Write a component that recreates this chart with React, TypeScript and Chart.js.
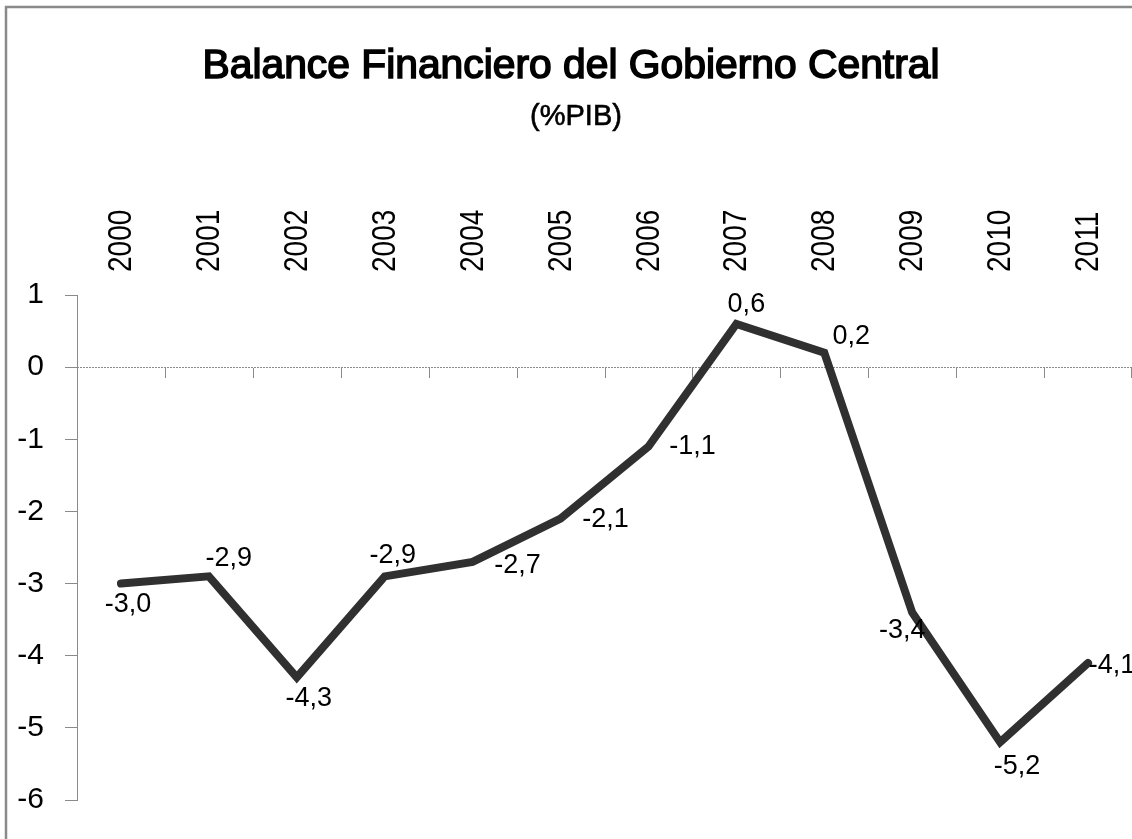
import React, { useEffect, useRef } from "react";
import { Chart, registerables } from "chart.js";

Chart.register(...registerables);

const years = ["2000", "2001", "2002", "2003", "2004", "2005", "2006", "2007", "2008", "2009", "2010", "2011"];
const balance = [-3.0, -2.9, -4.3, -2.9, -2.7, -2.1, -1.1, 0.6, 0.2, -3.4, -5.2, -4.1];
const yMin = -6;
const yMax = 1;
const titleText = "Balance Financiero del Gobierno Central";
const subtitleText = "(%PIB)";

// label offsets (px) relative to each point
const labelOffsets: [number, number][] = [
  [7, 21], [20, -18], [12, 21], [8, -21], [45, 4], [45, 1],
  [44, 0], [10, -19], [27, -16], [-10, 18], [17, 24], [24, 3],
];

const FONT = '"Liberation Sans", Arial, sans-serif';
const W = 1132;
const H = 839;

const decorPlugin = {
  id: "decor",
  beforeDraw(chart: any) {
    const ctx = chart.ctx;
    ctx.save();
    ctx.fillStyle = "#fff";
    ctx.fillRect(0, 0, chart.width, chart.height);
    // frame
    ctx.strokeStyle = "#8a8a8a";
    ctx.lineWidth = 2.5;
    ctx.beginPath();
    ctx.moveTo(6, chart.height);
    ctx.lineTo(6, 7);
    ctx.lineTo(chart.width, 7);
    ctx.stroke();
    // zero line with ticks
    const x = chart.scales.x;
    const y = chart.scales.y;
    const area = chart.chartArea;
    const y0 = Math.round(y.getPixelForValue(0));
    ctx.strokeStyle = "#8a8a8a";
    ctx.lineWidth = 1;
    ctx.setLineDash([2, 1]);
    ctx.beginPath();
    ctx.moveTo(area.left, y0 + 0.5);
    ctx.lineTo(area.right, y0 + 0.5);
    ctx.stroke();
    ctx.setLineDash([]);
    ctx.beginPath();
    for (let i = 0; i < years.length; i++) {
      const px = i < years.length - 1
        ? (x.getPixelForValue(i) + x.getPixelForValue(i + 1)) / 2
        : area.right - 1;
      ctx.moveTo(Math.round(px) + 0.5, y0 + 1);
      ctx.lineTo(Math.round(px) + 0.5, y0 + 11);
    }
    ctx.stroke();
    ctx.restore();
  },
  afterDraw(chart: any) {
    const ctx = chart.ctx;
    const x = chart.scales.x;
    const area = chart.chartArea;
    ctx.save();
    ctx.fillStyle = "#000";
    ctx.strokeStyle = "#000";
    // title
    ctx.font = `41px ${FONT}`;
    ctx.textAlign = "center";
    ctx.textBaseline = "alphabetic";
    const tw = ctx.measureText(titleText).width;
    const sx = 737 / tw;
    ctx.save();
    ctx.translate(571, 78);
    ctx.scale(sx, 1);
    ctx.lineWidth = 1.6;
    ctx.fillText(titleText, 0, 0);
    ctx.strokeText(titleText, 0, 0);
    ctx.restore();
    // subtitle
    ctx.font = `29px ${FONT}`;
    ctx.lineWidth = 0.6;
    ctx.fillText(subtitleText, 576, 125);
    ctx.strokeText(subtitleText, 576, 125);
    // year labels (rotated)
    ctx.font = `33px ${FONT}`;
    ctx.textAlign = "left";
    ctx.textBaseline = "middle";
    years.forEach((lab, i) => {
      const px = x.getPixelForValue(i);
      ctx.save();
      ctx.translate(px + 1, area.top - 23);
      ctx.rotate(-Math.PI / 2);
      ctx.scale(0.85, 1);
      ctx.fillText(lab, 0, 0);
      ctx.restore();
    });
    // data labels
    const meta = chart.getDatasetMeta(0);
    ctx.font = `27px ${FONT}`;
    ctx.textAlign = "center";
    ctx.textBaseline = "middle";
    meta.data.forEach((pt: any, i: number) => {
      const v = balance[i];
      const txt = v.toFixed(1).replace(".", ",");
      const [dx, dy] = labelOffsets[i];
      ctx.fillText(txt, pt.x + dx, pt.y + dy);
    });
    ctx.restore();
  },
};

export default function App() {
  const ref = useRef<HTMLCanvasElement | null>(null);
  useEffect(() => {
    if (!ref.current) return;
    const chart = new Chart(ref.current, {
      type: "line",
      data: {
        labels: years,
        datasets: [
          {
            data: balance,
            borderColor: "#303030",
            borderWidth: 8,
            borderCapStyle: "round",
            borderJoinStyle: "miter",
            pointRadius: 0,
            tension: 0,
            fill: false,
          },
        ],
      },
      options: {
        responsive: false,
        animation: false,
        devicePixelRatio: 1,
        layout: { padding: { top: 0, left: 0, right: 0, bottom: 28 } },
        plugins: {
          legend: { display: false },
          tooltip: { enabled: false },
          title: { display: false },
        },
        scales: {
          x: {
            type: "category",
            position: "top",
            offset: true,
            grid: { display: false, drawTicks: false },
            border: { display: false },
            ticks: { display: false },
            afterFit: (s: any) => {
              s.height = 295;
            },
          },
          y: {
            min: yMin,
            max: yMax,
            ticks: {
              stepSize: 1,
              padding: 21,
              color: "#000",
              font: { family: FONT, size: 30 },
              callback: (v: any) => String(v),
            },
            grid: {
              display: true,
              drawOnChartArea: false,
              drawTicks: true,
              tickLength: 12,
              color: "#8a8a8a",
            },
            border: { display: true, color: "#8a8a8a", width: 1 },
            afterFit: (s: any) => {
              s.width = 77;
            },
          },
        },
      },
      plugins: [decorPlugin],
    });
    return () => chart.destroy();
  }, []);
  return (
    <div style={{ position: "fixed", left: 0, top: 0, width: W, height: H, background: "#fff", overflow: "hidden" }}>
      <canvas ref={ref} width={W} height={H} style={{ width: W, height: H, display: "block" }} />
    </div>
  );
}
